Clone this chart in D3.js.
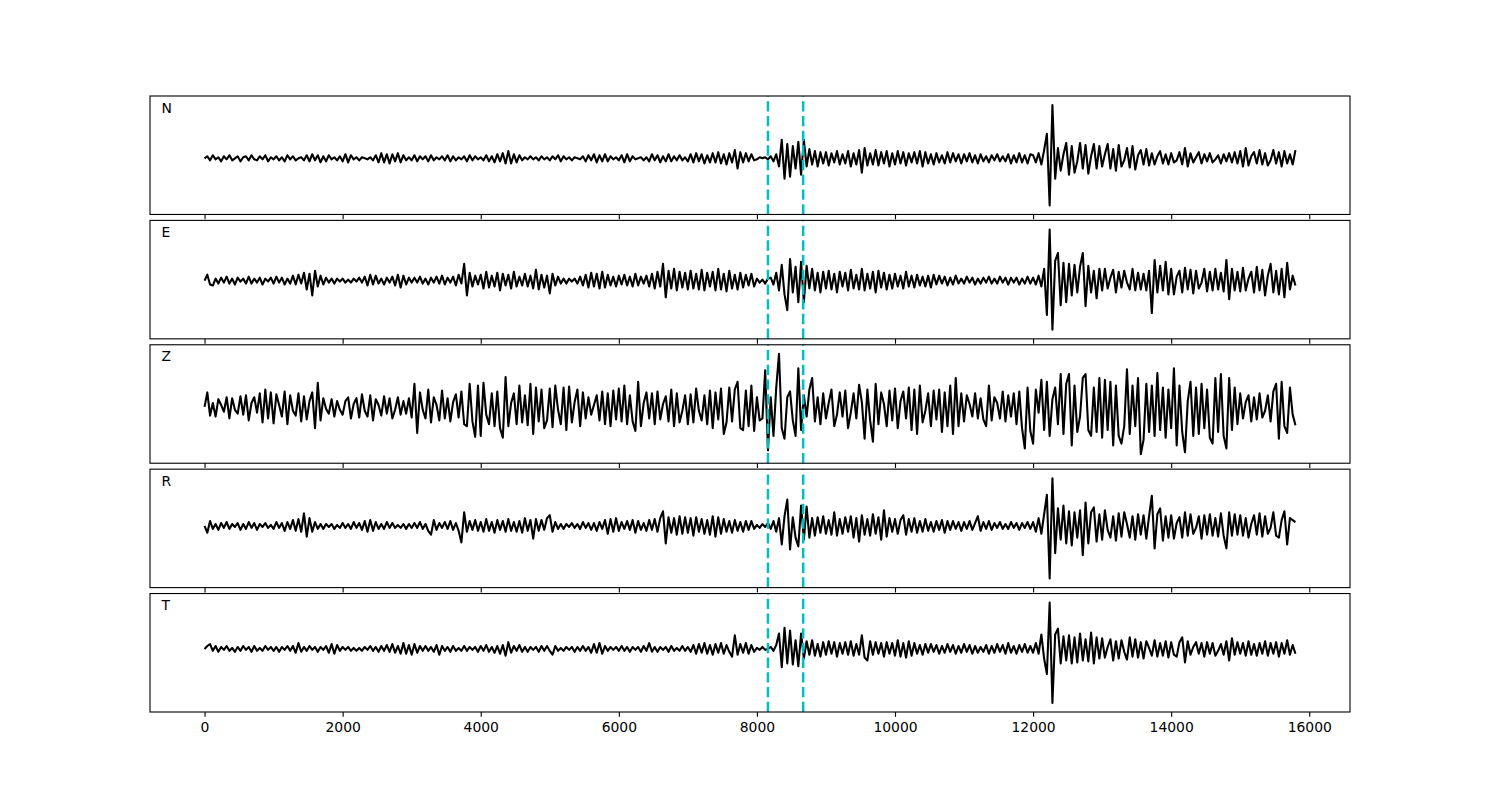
<!DOCTYPE html>
<html><head><meta charset="utf-8">
<script src="https://cdn.jsdelivr.net/npm/d3@7"></script>
<style>body{margin:0;background:#fff}svg text{font-family:"DejaVu Sans",sans-serif}</style>
</head><body>
<svg id="c" width="1500" height="800"></svg>
<script>
const channels = ["N", "E", "Z", "R", "T"];
const sampleStep = 40; // time units between samples, first sample at 0
const pickTimes = [8160, 8670];
const xTickValues = [0, 2000, 4000, 6000, 8000, 10000, 12000, 14000, 16000];

const traceN = [
0,2,-2,3,-1,1,-3,2,-1,3,-2,0,2,-3,1,2,-2,3,-1,-2,2,-1,3,-3,1,
-1,2,-2,1,-3,3,-1,2,-2,0,1,-2,3,-3,4,-2,3,-4,2,-3,3,-1,1,-2,2,
-3,4,-4,3,-1,1,-2,1,0,-1,1,-2,3,-4,5,-4,4,-5,4,-3,5,-4,3,-2,1,
-2,3,-3,2,-1,2,-3,3,-2,1,-1,2,-2,3,-3,2,-2,1,-1,2,-3,3,-2,2,-1,
1,-2,3,-3,2,-4,4,-3,5,-5,7,-5,4,-4,3,-2,1,-1,2,-1,1,-2,2,-1,1,
-2,2,-1,3,-3,2,-1,1,-2,1,0,-1,2,-3,3,-2,4,-4,3,-3,4,-3,2,-1,1,
-2,3,-4,4,-3,2,-1,0,1,-2,1,-3,4,-2,3,-4,2,-3,4,-3,2,-2,3,-2,1,
-3,4,-4,5,-3,4,-5,3,-4,5,-4,6,-5,4,-6,5,-4,8,-10,6,-4,5,-3,4,-2,
-1,1,0,1,-1,2,-3,4,-8,18,-20,14,-18,12,-10,16,-16,18,-8,9,-6,7,-8,6,-5,
6,-7,5,-4,7,-6,4,-5,7,-8,5,-6,8,-14,10,-7,5,-6,8,-7,6,-5,7,-8,5,
-6,7,-5,6,-7,5,-4,6,-5,7,-8,6,-5,4,-6,5,-4,3,-5,6,-4,5,-3,4,-5,
4,-3,5,-4,3,-5,4,-3,2,-4,3,-2,4,-3,2,-3,4,-5,3,-4,5,-4,3,-5,4,
3,-4,5,-6,8,24,-46,52,-20,10,-12,4,15,-16,12,-14,-3,15,-10,13,-15,2,14,-10,12,
-8,4,14,-10,9,-12,13,-8,-2,10,-9,12,-11,3,8,-6,9,-7,5,-6,2,7,-5,4,-6,
5,-4,-2,6,-6,10,-8,5,-4,1,6,-5,4,-3,5,-4,-1,3,-5,4,-3,5,-4,6,-5,
7,-8,10,-7,2,6,-5,8,-6,5,-7,-2,8,-5,6,-8,7,-5,4,-6,8
];

const traceE = [
0,6,-4,-5,2,-3,3,-2,4,-3,2,-4,3,-1,2,-3,4,-3,2,-2,3,-4,2,-1,3,
-3,4,-2,3,-4,2,-3,5,-4,6,-3,8,-9,7,-15,10,-6,5,-4,3,-2,2,-3,2,-1,
2,-2,1,-2,2,-1,3,-2,4,-5,6,-4,5,-3,2,-4,3,-2,4,-5,6,-7,5,-4,3,
-2,3,-2,4,-3,2,-4,3,-2,4,-3,5,-4,3,-2,4,-5,6,-3,17,-15,8,-6,5,-4,
6,-8,9,-7,5,-6,8,-10,7,-5,6,-8,9,-6,4,-5,7,-6,5,-8,11,-9,6,-7,5,
-13,7,-5,4,-3,2,-3,2,-1,2,-3,4,-5,6,-7,8,-6,7,-8,9,-7,6,-5,4,-6,
5,-4,6,-5,4,-6,7,-5,4,-3,5,-6,7,-8,9,-6,17,-17,10,-8,12,-10,9,-7,8,
-9,10,-8,7,-9,11,-10,8,-6,9,-10,12,-9,7,-11,10,-8,6,-9,8,-7,6,-5,7,-6,
2,-2,1,-3,2,3,-4,8,-10,16,-14,-30,22,-12,14,-22,19,-22,15,-8,12,-10,8,-12,9,
-8,10,-9,7,-12,9,-6,8,-10,11,-8,6,-9,12,-10,7,-8,9,-12,10,-7,8,-9,6,-8,
7,-6,5,-8,9,-6,5,-7,6,-5,4,-6,5,-7,6,-4,5,-3,4,-5,3,-4,5,-3,2,
-3,4,-2,3,-4,2,-3,3,-2,4,-3,2,-3,4,-2,3,-4,3,-2,3,-4,2,-3,4,-3,
3,-4,5,-6,12,-35,52,-50,20,28,-25,18,-22,17,-15,16,-12,14,28,-26,15,-12,10,-18,12,
-10,12,-8,3,11,-12,9,-7,10,-2,-9,12,-10,8,-9,7,-10,10,-33,21,-12,15,-10,19,-14,
12,-14,4,10,-12,13,-9,11,-13,10,-8,-2,12,-11,9,-10,12,-9,8,-11,21,-19,12,-10,9,
-11,13,-10,2,9,-12,14,-10,11,-15,5,17,-12,10,-14,12,-17,18,-9,5,-5
];

const traceZ = [
0,15,-9,4,-10,8,2,-5,10,-12,9,-3,-7,11,-8,12,-14,4,10,-6,14,-16,18,-12,15,
-17,13,2,-10,16,-18,12,-4,-9,14,-15,11,-13,6,15,-22,25,-14,9,-2,-7,8,-10,6,-3,
-8,6,10,-12,3,9,-11,13,-4,-10,12,-14,8,2,-9,11,-7,9,-12,-3,10,-8,6,-7,9,
-11,24,-27,15,-3,-12,18,-16,10,2,-14,17,-12,9,-15,5,13,-11,16,-18,-20,24,-15,-31,22,
-30,25,-8,-18,14,-20,16,-22,-32,31,-20,4,14,-18,22,-16,12,-19,24,-28,20,-15,18,-22,-14,
19,-21,22,-3,-18,20,-24,21,-16,5,18,-20,15,-12,10,-8,2,12,-14,16,-18,14,-20,17,-13,
19,-15,22,-18,12,-15,-25,26,-20,4,15,-12,14,-18,16,-13,3,11,-15,18,-20,14,-16,-4,12,
-18,13,-16,19,-4,-14,12,-18,17,-22,15,-13,19,-28,-16,20,-15,18,26,-22,-24,17,-20,22,-25,
10,-14,-12,38,-45,10,-30,20,55,-22,-33,10,16,-14,-30,40,-24,12,-10,18,30,-15,10,-18,14,
-12,4,18,-20,-8,15,-10,17,-22,-6,14,-12,23,5,-33,18,-14,-36,24,-18,15,3,-20,17,-14,
19,-22,6,16,-12,20,-24,18,-28,22,-16,-4,14,-20,17,-13,18,-26,15,-20,22,-28,30,-20,14,
-15,12,3,-10,14,-12,9,-13,-20,22,-14,10,4,-12,16,-15,12,-10,14,-18,16,-22,-43,20,-25,
-38,18,-6,28,-24,26,-30,8,20,-18,34,-28,24,34,-40,22,-26,-10,30,34,-24,-30,20,-26,30,
-32,28,-24,26,-40,22,-30,-38,-20,39,-28,22,-20,30,-49,-34,24,-26,22,-30,35,-24,20,-32,18,
-22,40,-40,22,-26,-47,6,26,-30,20,-28,24,-22,18,-32,-38,30,-26,34,-30,-43,30,-24,20,-18,
14,-12,5,12,-15,10,-13,14,-11,-4,12,-15,16,24,-33,26,-20,-27,20,-8,-19
];

const traceR = [
0,-7,5,-3,2,-4,3,-2,4,-3,2,-1,3,-4,2,-3,4,-2,3,-4,2,-1,3,-2,1,
-3,4,-2,3,-5,4,-3,6,-5,7,-6,13,-11,8,-6,4,-3,2,-3,2,-1,2,-3,1,-2,
3,-2,2,-3,4,-2,3,-4,5,-6,6,-5,4,-3,2,-3,4,-2,3,-2,1,-2,2,-3,2,
-2,3,-2,4,-3,2,-5,-9,6,-4,3,-2,4,-3,5,-4,3,-5,-17,14,-6,5,-4,6,-5,
4,-6,7,-5,4,-7,6,-4,5,-6,7,-5,4,-6,5,-7,8,-5,6,-13,7,-5,6,-4,8,
11,-6,4,-3,2,-3,2,-1,3,-2,2,-3,4,-2,3,-4,3,-5,4,-3,6,-8,7,-6,8,
-5,4,-3,5,-4,6,-7,5,-4,3,-5,6,-4,7,-6,8,15,-18,9,-7,8,-9,10,-8,9,
-7,8,-10,9,-6,7,-8,6,-9,10,-11,9,-8,7,-6,5,-7,6,-5,4,-6,5,-4,5,-3,
1,-2,2,-1,3,-3,5,-6,8,-19,10,27,-24,9,-12,-21,21,-14,20,-12,8,-10,9,-7,10,
-8,6,-9,14,-10,7,-8,9,-6,10,-12,8,-16,11,-9,7,-10,12,-8,9,-14,16,-11,8,-6,
7,-8,6,11,-9,7,-6,8,-7,5,-6,7,-5,4,-6,5,-4,6,-7,5,-4,5,-3,4,-5,
4,-3,5,-4,3,10,-5,4,-3,5,-4,3,-2,4,-3,2,-3,4,-2,3,-4,3,-2,4,-3,
4,-6,8,-8,12,32,-54,49,-28,18,-14,21,-18,15,-20,14,-12,16,-30,24,-18,14,19,-16,12,
-14,16,-4,-12,10,-15,13,-11,14,2,-12,10,-14,12,-9,11,-13,10,31,-23,12,18,-15,10,-12,
11,-13,3,9,-12,14,-10,12,-8,-2,10,-13,11,-9,12,-10,8,-11,13,-10,-23,14,-10,12,-9,
11,-10,8,-12,2,11,-9,13,-11,10,-8,-2,14,-10,-12,6,15,-19,8,6,4
];

const traceT = [
0,3,5,-2,3,-3,2,-1,3,-2,1,-3,2,-2,3,-1,2,-3,3,-2,1,-2,3,-1,2,
-2,2,-3,2,-1,3,-2,3,-4,6,-3,2,-2,3,-1,2,-3,2,-1,3,-4,5,-5,4,-2,
2,-1,2,-2,1,-2,1,-2,2,-1,3,-2,2,-3,3,-2,4,-3,5,-4,3,-5,6,-5,4,
-6,5,-4,3,-2,3,-2,2,-3,4,-6,3,-2,2,-3,3,-2,1,-2,3,-2,2,-1,2,-3,
3,-2,4,-3,2,-4,3,-5,4,-7,7,-4,3,-2,4,-3,2,-3,2,-1,2,-3,3,-2,3,
-2,-6,3,-2,1,-2,2,-1,2,-3,2,-2,3,-2,2,-4,5,-4,6,-5,3,-2,2,-1,2,
-2,3,-2,2,-3,2,-1,2,-3,3,-2,6,-3,2,-3,2,-1,2,-3,3,-2,1,-2,3,-2,
2,-3,4,-5,5,-4,6,-5,4,-6,5,-4,6,-5,4,-3,-8,14,-6,5,-4,6,-5,4,-3,
1,-1,2,-1,0,2,-2,4,16,-19,22,-15,19,-16,9,-18,16,-10,8,-6,9,-7,5,-8,7,
-6,8,-5,7,-8,6,-5,7,-6,8,-7,5,-6,14,-9,-12,8,-6,7,-5,6,-8,7,-5,6,
-7,9,-8,6,-9,8,-7,6,-5,4,-6,5,-4,5,-3,4,-5,3,-4,5,-3,4,-5,3,-4,
5,-3,4,-5,3,-4,2,-3,4,-5,3,-4,5,-3,4,-5,6,-4,3,-5,4,-3,5,-4,3,
-4,6,-5,15,-10,-26,48,-56,15,21,-15,13,-12,14,-15,12,-14,16,-12,10,-13,17,-15,12,-10,
11,-9,2,10,-12,8,-10,9,-3,-11,12,-8,10,-9,7,-10,8,1,-7,9,-8,6,-7,8,-9,
7,-6,-8,7,12,-14,8,-6,2,7,-5,6,-8,7,-5,6,-7,-2,5,-6,8,-12,11,-6,7,
-5,6,-7,8,-6,5,-7,6,-5,8,-7,6,-5,7,-8,6,-5,9,-6,4,-5
];

const traces = [traceN, traceE, traceZ, traceR, traceT];

const svg = d3.select("#c");
const x = d3.scaleLinear().domain([-790, 16590]).range([150, 1350]);
const figTop = 96, figBottom = 712, hspace = 0.05, nPanels = channels.length;
const ph = (figBottom - figTop) / (nPanels + (nPanels - 1) * hspace);
const gap = ph * hspace;

traces.forEach((vals, i) => {
  const y0 = figTop + i * (ph + gap);
  const [mn, mx] = d3.extent(vals);
  const pad = (mx - mn) * 0.09;
  const y = d3.scaleLinear().domain([mn - pad, mx + pad]).range([y0 + ph, y0]);
  const g = svg.append("g");
  const cid = "clip" + i;
  svg.append("clipPath").attr("id", cid).append("rect")
    .attr("x", 150).attr("y", y0).attr("width", 1200).attr("height", ph);

  g.append("path").datum(vals)
    .attr("clip-path", `url(#${cid})`)
    .attr("d", d3.line().x((v, j) => x(j * sampleStep)).y(v => y(v)))
    .attr("fill", "none").attr("stroke", "#000").attr("stroke-width", 2.08)
    .attr("stroke-linejoin", "round");

  pickTimes.forEach(p => {
    g.append("line")
      .attr("x1", x(p)).attr("x2", x(p)).attr("y1", y0 + ph).attr("y2", y0)
      .attr("stroke", "#00bfbf").attr("stroke-width", 2.5)
      .attr("stroke-dasharray", "10.3,4.4");
  });

  g.append("rect").attr("x", 150).attr("y", y0).attr("width", 1200).attr("height", ph)
    .attr("fill", "none").attr("stroke", "#000").attr("stroke-width", 1.1);

  const ax = d3.axisBottom(x).tickValues(xTickValues).tickSize(4.86).tickPadding(4.86)
    .tickFormat(i === nPanels - 1 ? d3.format("d") : () => "");
  const axg = g.append("g").attr("transform", `translate(0,${y0 + ph})`).call(ax);
  axg.select(".domain").remove();
  axg.selectAll(".tick line").attr("stroke", "#000").attr("stroke-width", 1.1);
  axg.selectAll(".tick text").attr("fill", "#000")
    .style("font-family", '"DejaVu Sans", sans-serif').style("font-size", "13.9px");

  g.append("text").attr("x", 161.5).attr("y", y0 + 16.7)
    .style("font-size", "13.9px").attr("fill", "#000").text(channels[i]);
});
</script>
</body></html>
